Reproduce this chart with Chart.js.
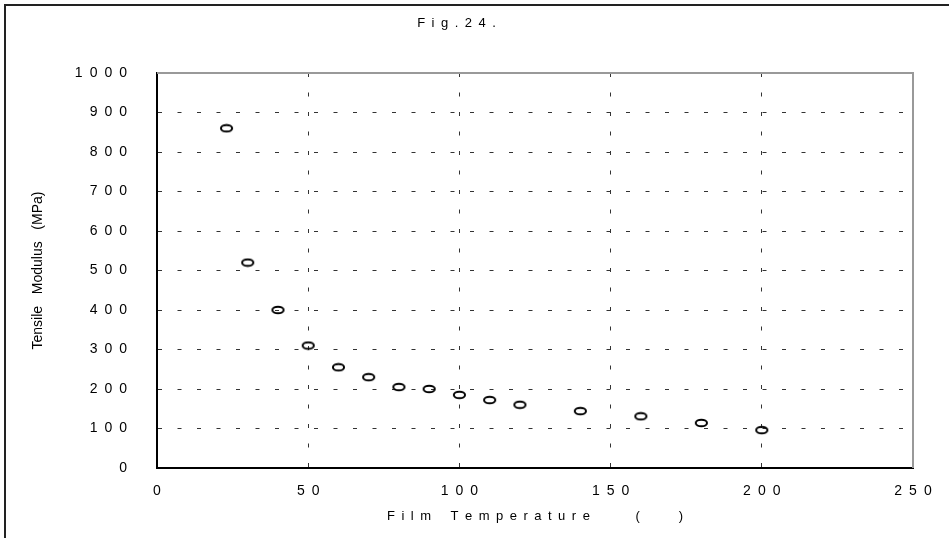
<!DOCTYPE html>
<html>
<head>
<meta charset="utf-8">
<script src="https://cdn.jsdelivr.net/npm/chart.js@4.4.1/dist/chart.umd.min.js"></script>
<style>
    html, body { margin: 0; padding: 0; background: #fff; overflow: hidden; }
    #frame {
        position: absolute; left: 4px; top: 4px; width: 1200px; height: 800px;
        border-left: 2px solid #222; border-top: 2px solid #222;
    }
    #wrap { position: absolute; left: 0; top: 0; width: 949px; height: 538px; }
</style>
</head>
<body>
<div id="frame"></div>
<div id="wrap"><canvas id="chart"></canvas></div>
<script>
// Film temperature vs tensile modulus
const temperatures = [23, 30, 40, 50, 60, 70, 80, 90, 100, 110, 120, 140, 160, 180, 200];
const modulus = [860, 520, 400, 310, 255, 230, 205, 200, 185, 172, 160, 144, 131, 114, 96];

const xTickValues = [0, 50, 100, 150, 200, 250];
const yTickValues = [0, 100, 200, 300, 400, 500, 600, 700, 800, 900, 1000];

const FONT = "'Liberation Sans', Arial, sans-serif";
const EN = '\u2002';

function spaced(text) {
    return String(text).split('').join(EN);
}

function isEdgeTick(value, ticks) {
    return value === ticks[0] || value === ticks[ticks.length - 1];
}

// open ellipse marker, wider than tall
function makeEllipseMarker() {
    const c = document.createElement('canvas');
    c.width = 15;
    c.height = 10;
    const g = c.getContext('2d');
    g.lineWidth = 2;
    g.strokeStyle = '#000';
    g.beginPath();
    g.ellipse(7.5, 5, 5.6, 3.3, 0, 0, Math.PI * 2);
    g.stroke();
    return c;
}

const plotFrame = {
    id: 'plotFrame',
    beforeDatasetsDraw(chart) {
        const { ctx, chartArea: a } = chart;
        ctx.save();
        ctx.strokeStyle = '#999';
        ctx.lineWidth = 2;
        ctx.beginPath();
        ctx.moveTo(a.left, a.top);
        ctx.lineTo(a.right, a.top);
        ctx.lineTo(a.right, a.bottom);
        ctx.stroke();
        ctx.restore();
    }
};

const xTitle = spaced('Film') + EN.repeat(3) + spaced('Temperature') + EN.repeat(7) + '(' + EN.repeat(6) + ')';

new Chart(document.getElementById('chart'), {
    type: 'scatter',
    data: {
        datasets: [{
            data: temperatures.map((t, i) => ({ x: t, y: modulus[i] })),
            pointStyle: makeEllipseMarker(),
            borderColor: '#000',
            showLine: false
        }]
    },
    options: {
        responsive: true,
        maintainAspectRatio: false,
        animation: false,
        layout: { padding: { left: 0, right: 36, top: 0, bottom: 0 } },
        plugins: {
            legend: { display: false },
            tooltip: { enabled: false },
            title: {
                display: true,
                text: spaced('Fig.24.'),
                color: '#000',
                font: { family: FONT, size: 13, weight: 'normal' },
                padding: { top: 16, bottom: 41.4 }
            }
        },
        scales: {
            x: {
                type: 'linear',
                min: 0,
                max: 250,
                afterBuildTicks: (scale) => { scale.ticks = xTickValues.map((v) => ({ value: v })); },
                afterFit: (scale) => { scale.height = 70; },
                ticks: {
                    color: '#000',
                    padding: 15,
                    maxRotation: 0,
                    font: { family: FONT, size: 14 },
                    callback: (value) => spaced(value)
                },
                grid: {
                    drawTicks: false,
                    lineWidth: 1,
                    color: (ctx) => (ctx.tick && isEdgeTick(ctx.tick.value, xTickValues)) ? 'rgba(0,0,0,0)' : '#333'
                },
                border: { display: true, color: '#000', width: 2, dash: [4, 15.5] },
                title: {
                    display: true,
                    text: xTitle,
                    color: '#000',
                    font: { family: FONT, size: 13 },
                    padding: { top: 0, bottom: 14 }
                }
            },
            y: {
                type: 'linear',
                min: 0,
                max: 1000,
                afterBuildTicks: (scale) => { scale.ticks = yTickValues.map((v) => ({ value: v })); },
                afterFit: (scale) => { scale.width = 157; },
                ticks: {
                    color: '#000',
                    padding: 30,
                    font: { family: FONT, size: 14 },
                    callback: (value) => spaced(value)
                },
                grid: {
                    drawTicks: false,
                    lineWidth: 1,
                    color: (ctx) => (ctx.tick && isEdgeTick(ctx.tick.value, yTickValues)) ? 'rgba(0,0,0,0)' : '#333'
                },
                border: { display: true, color: '#000', width: 2, dash: [4, 15.5] },
                title: {
                    display: true,
                    text: 'Tensile   Modulus   (MPa)',
                    color: '#000',
                    font: { family: FONT, size: 14 },
                    padding: { top: 30, bottom: 0 }
                }
            }
        }
    },
    plugins: [plotFrame]
});
</script>
</body>
</html>
